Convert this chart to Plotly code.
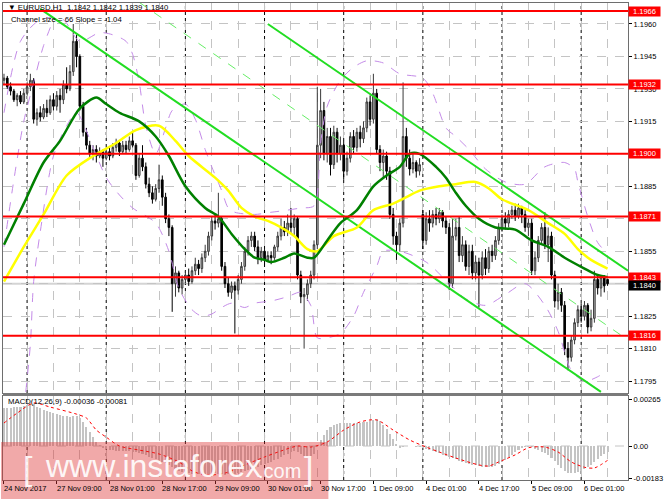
import plotly.graph_objects as go

# ---------------- data ----------------
bar_index = list(range(184))

opens = [
1.1934,1.1935,1.1931,1.1929,1.1925,1.1927,1.1924,1.1928,1.1931,1.1934,
1.1916,1.1919,1.1917,1.1921,1.1919,1.1925,1.1922,1.1927,1.1925,1.1932,
1.1930,1.1938,1.1952,1.1945,1.1922,1.1910,1.1904,1.1900,1.1902,1.1899,
1.1901,1.1898,1.1901,1.1899,1.1903,1.1905,1.1901,1.1904,1.1902,1.1906,
1.1904,1.1890,1.1898,1.1894,1.1886,1.1882,1.1879,1.1884,1.1888,1.1880,
1.1870,1.1866,1.1840,1.1845,1.1838,1.1842,1.1844,1.1841,1.1846,1.1849,
1.1847,1.1852,1.1855,1.1862,1.1869,1.1868,1.1870,1.1848,1.1840,1.1836,
1.1839,1.1837,1.1842,1.1848,1.1855,1.1860,1.1862,1.1857,1.1852,1.1855,
1.1851,1.1853,1.1852,1.1857,1.1862,1.1866,1.1864,1.1868,1.1866,1.1870,
1.1844,1.1834,1.1835,1.1840,1.1844,1.1858,1.1904,1.1920,1.1900,1.1908,
1.1895,1.1910,1.1900,1.1904,1.1892,1.1898,1.1908,1.1903,1.1910,1.1907,
1.1912,1.1924,1.1916,1.1928,1.1902,1.1896,1.1899,1.1892,1.1872,1.1862,
1.1858,1.1868,1.1908,1.1898,1.1893,1.1896,1.1892,1.1872,1.1860,1.1870,
1.1868,1.1872,1.1870,1.1873,1.1869,1.1866,1.1840,1.1862,1.1866,1.1853,
1.1858,1.1848,1.1855,1.1845,1.1850,1.1844,1.1852,1.1847,1.1855,1.1853,
1.1860,1.1866,1.1870,1.1868,1.1872,1.1874,1.1871,1.1875,1.1872,1.1866,
1.1868,1.1846,1.1852,1.1860,1.1866,1.1858,1.1862,1.1844,1.1832,1.1836,
1.1830,1.1810,1.1806,1.1814,1.1822,1.1828,1.1825,1.1830,1.1820,1.1824,
1.1842,1.1838,1.1843,1.1842]

highs = [
1.1937,1.1936,1.1933,1.1930,1.1928,1.1929,1.1930,1.1933,1.1937,1.1935,
1.1921,1.1922,1.1923,1.1925,1.1927,1.1928,1.1929,1.1930,1.1934,1.1940,
1.1941,1.1960,1.1955,1.1946,1.1924,1.1912,1.1906,1.1904,1.1904,1.1903,
1.1902,1.1903,1.1903,1.1905,1.1907,1.1906,1.1906,1.1906,1.1908,1.1910,
1.1905,1.1900,1.1904,1.1896,1.1889,1.1885,1.1886,1.1895,1.1890,1.1882,
1.1872,1.1867,1.1848,1.1846,1.1844,1.1846,1.1847,1.1848,1.1852,1.1851,
1.1854,1.1858,1.1864,1.1871,1.1872,1.1882,1.1871,1.1850,1.1843,1.1841,
1.1841,1.1844,1.1850,1.1857,1.1862,1.1864,1.1864,1.1860,1.1857,1.1856,
1.1855,1.1855,1.1858,1.1864,1.1870,1.1869,1.1872,1.1875,1.1872,1.1871,
1.1846,1.1838,1.1842,1.1846,1.1860,1.1931,1.1930,1.1924,1.1912,1.1912,
1.1913,1.1912,1.1908,1.1906,1.1901,1.1910,1.1911,1.1912,1.1913,1.1915,
1.1926,1.1927,1.1937,1.1930,1.1904,1.1902,1.1901,1.1894,1.1875,1.1864,
1.1870,1.1933,1.1912,1.1902,1.1900,1.1897,1.1898,1.1874,1.1873,1.1874,
1.1874,1.1875,1.1875,1.1874,1.1871,1.1868,1.1870,1.1870,1.1871,1.1862,
1.1860,1.1858,1.1858,1.1853,1.1852,1.1855,1.1856,1.1857,1.1858,1.1862,
1.1868,1.1872,1.1873,1.1874,1.1876,1.1877,1.1877,1.1876,1.1874,1.1870,
1.1870,1.1855,1.1862,1.1868,1.1873,1.1866,1.1864,1.1846,1.1840,1.1838,
1.1832,1.1813,1.1816,1.1824,1.1830,1.1831,1.1832,1.1831,1.1828,1.1846,
1.1844,1.1844,1.1844,1.1842]

lows = [
1.1932,1.1930,1.1927,1.1924,1.1922,1.1923,1.1923,1.1927,1.1929,1.1914,
1.1913,1.1915,1.1916,1.1917,1.1918,1.1920,1.1920,1.1919,1.1923,1.1928,
1.1929,1.1936,1.1940,1.1920,1.1908,1.1902,1.1898,1.1897,1.1896,1.1898,
1.1894,1.1897,1.1897,1.1898,1.1901,1.1899,1.1900,1.1900,1.1901,1.1903,
1.1888,1.1889,1.1892,1.1884,1.1880,1.1877,1.1878,1.1882,1.1876,1.1868,
1.1862,1.1827,1.1834,1.1836,1.1835,1.1840,1.1839,1.1840,1.1844,1.1844,
1.1845,1.1850,1.1853,1.1860,1.1865,1.1866,1.1846,1.1838,1.1834,1.1833,
1.1817,1.1835,1.1840,1.1846,1.1853,1.1857,1.1855,1.1849,1.1850,1.1849,
1.1850,1.1849,1.1851,1.1855,1.1860,1.1862,1.1862,1.1863,1.1862,1.1842,
1.1831,1.1810,1.1832,1.1838,1.1842,1.1856,1.1898,1.1897,1.1896,1.1890,
1.1893,1.1896,1.1897,1.1888,1.1890,1.1896,1.1900,1.1901,1.1903,1.1905,
1.1910,1.1913,1.1914,1.1900,1.1892,1.1889,1.1888,1.1870,1.1858,1.1851,
1.1855,1.1866,1.1894,1.1890,1.1891,1.1889,1.1890,1.1856,1.1858,1.1864,
1.1866,1.1867,1.1868,1.1866,1.1863,1.1837,1.1838,1.1860,1.1850,1.1850,
1.1846,1.1844,1.1842,1.1842,1.1829,1.1842,1.1844,1.1845,1.1850,1.1851,
1.1858,1.1864,1.1865,1.1866,1.1870,1.1869,1.1870,1.1868,1.1864,1.1862,
1.1844,1.1844,1.1850,1.1858,1.1856,1.1850,1.1842,1.1829,1.1828,1.1827,
1.1807,1.1800,1.1804,1.1812,1.1820,1.1822,1.1823,1.1817,1.1818,1.1822,
1.1835,1.1834,1.1836,1.1839]

closes = [
1.1935,1.1931,1.1929,1.1925,1.1927,1.1924,1.1928,1.1931,1.1934,1.1916,
1.1919,1.1917,1.1921,1.1919,1.1925,1.1922,1.1927,1.1925,1.1932,1.1930,
1.1938,1.1952,1.1945,1.1922,1.1910,1.1904,1.1900,1.1902,1.1899,1.1901,
1.1898,1.1901,1.1899,1.1903,1.1905,1.1901,1.1904,1.1902,1.1906,1.1904,
1.1890,1.1898,1.1894,1.1886,1.1882,1.1879,1.1884,1.1888,1.1880,1.1870,
1.1866,1.1840,1.1845,1.1838,1.1842,1.1844,1.1841,1.1846,1.1849,1.1847,
1.1852,1.1855,1.1862,1.1869,1.1868,1.1870,1.1848,1.1840,1.1836,1.1839,
1.1837,1.1842,1.1848,1.1855,1.1860,1.1862,1.1857,1.1852,1.1855,1.1851,
1.1853,1.1852,1.1857,1.1862,1.1866,1.1864,1.1868,1.1866,1.1870,1.1844,
1.1834,1.1835,1.1840,1.1844,1.1858,1.1904,1.1920,1.1900,1.1908,1.1895,
1.1910,1.1900,1.1904,1.1892,1.1898,1.1908,1.1903,1.1910,1.1907,1.1912,
1.1924,1.1916,1.1928,1.1902,1.1896,1.1899,1.1892,1.1872,1.1862,1.1858,
1.1868,1.1908,1.1898,1.1893,1.1896,1.1892,1.1895,1.1860,1.1870,1.1868,
1.1872,1.1870,1.1873,1.1869,1.1866,1.1840,1.1862,1.1866,1.1853,1.1858,
1.1848,1.1855,1.1845,1.1850,1.1844,1.1852,1.1847,1.1855,1.1853,1.1860,
1.1866,1.1870,1.1868,1.1872,1.1874,1.1871,1.1875,1.1872,1.1866,1.1868,
1.1846,1.1852,1.1860,1.1866,1.1858,1.1862,1.1844,1.1832,1.1836,1.1830,
1.1810,1.1806,1.1814,1.1822,1.1828,1.1825,1.1830,1.1820,1.1824,1.1842,
1.1838,1.1843,1.1839,1.1840]

macd_hist = [
0.00212,0.00214,0.00216,0.00218,0.00220,0.00222,0.00226,0.00232,0.00240,0.00236,
0.00222,0.00212,0.00205,0.00198,0.00192,0.00186,0.00180,0.00174,0.00170,0.00168,
0.00166,0.00168,0.00168,0.00160,0.00135,0.00110,0.00080,0.00050,0.00025,0.00005,
-0.00010,-0.00018,-0.00022,-0.00025,-0.00026,-0.00028,-0.00028,-0.00030,-0.00030,-0.00032,
-0.00036,-0.00040,-0.00045,-0.00052,-0.00060,-0.00068,-0.00075,-0.00082,-0.00090,-0.00098,
-0.00106,-0.00120,-0.00132,-0.00140,-0.00146,-0.00150,-0.00154,-0.00156,-0.00158,-0.00160,
-0.00160,-0.00160,-0.00158,-0.00156,-0.00155,-0.00156,-0.00160,-0.00162,-0.00160,-0.00158,
-0.00156,-0.00152,-0.00148,-0.00142,-0.00135,-0.00128,-0.00122,-0.00116,-0.00110,-0.00104,
-0.00096,-0.00088,-0.00080,-0.00072,-0.00062,-0.00052,-0.00044,-0.00036,-0.00030,-0.00034,
-0.00045,-0.00055,-0.00060,-0.00058,-0.00045,-0.00005,0.00035,0.00065,0.00090,0.00105,
0.00118,0.00125,0.00128,0.00128,0.00128,0.00130,0.00130,0.00132,0.00132,0.00134,
0.00138,0.00142,0.00148,0.00153,0.00140,0.00118,0.00095,0.00070,0.00040,0.00010,
-0.00012,-0.00008,0.00002,0.00001,-0.00002,-0.00004,-0.00005,-0.00012,-0.00018,-0.00024,
-0.00030,-0.00036,-0.00042,-0.00048,-0.00054,-0.00062,-0.00070,-0.00076,-0.00082,-0.00088,
-0.00094,-0.00100,-0.00106,-0.00110,-0.00114,-0.00116,-0.00118,-0.00118,-0.00116,-0.00112,
-0.00104,-0.00092,-0.00078,-0.00064,-0.00050,-0.00036,-0.00024,-0.00012,-0.00005,-0.00003,
-0.00008,-0.00016,-0.00024,-0.00032,-0.00040,-0.00050,-0.00065,-0.00085,-0.00105,-0.00125,
-0.00140,-0.00150,-0.00152,-0.00150,-0.00146,-0.00140,-0.00130,-0.00120,-0.00108,-0.00090,
-0.00072,-0.00058,-0.00046,-0.00036]

signal_bars = [0, 4, 9, 14, 22, 25, 28, 31, 35, 41, 47, 53, 57, 61, 67, 73, 79, 84, 89, 93,
               98, 103, 108, 113, 118, 123, 128, 132, 137, 144, 147, 150, 155, 159, 164, 168,
               172, 176, 179, 183]
signal_vals = [0.00130, 0.00186, 0.00243, 0.00220, 0.00180, 0.00158, 0.00090, 0.00050, 0.00000,
               -0.00023, -0.00045, -0.00090, -0.00140, -0.00164, -0.00153, -0.00107, -0.00062,
               -0.00028, 0.00000, -0.00006, 0.00023, 0.00090, 0.00136, 0.00147, 0.00090, 0.00034,
               -0.00006, -0.00034, -0.00068, -0.00107, -0.00113, -0.00090, -0.00050, -0.00010,
               -0.00006, -0.00034, -0.00090, -0.00120, -0.00124, -0.00081]

green_ma_bars = [0, 6, 12, 17, 23, 28, 31, 35, 41, 46, 50, 55, 61, 65, 69, 73, 76, 79, 81, 85,
                 88, 92, 94, 98, 102, 107, 112, 116, 120, 123, 126, 131, 134, 137, 140, 144,
                 149, 155, 160, 165, 170, 176, 180, 183]
green_ma_vals = [1.1858, 1.1877, 1.1896, 1.1906, 1.1921, 1.1926, 1.1923, 1.1919, 1.1915, 1.1908,
                 1.1899, 1.1885, 1.1875, 1.1871, 1.1863, 1.1856, 1.1852, 1.1851, 1.1850, 1.1852,
                 1.1854, 1.1852, 1.1852, 1.1860, 1.1868, 1.1874, 1.1885, 1.1890, 1.1894, 1.1900,
                 1.1900, 1.1894, 1.1889, 1.1882, 1.1876, 1.1870, 1.1866, 1.1865, 1.1860, 1.1857,
                 1.1852, 1.1847, 1.1844, 1.1843]

yellow_ma_bars = [0, 6, 12, 19, 27, 34, 40, 47, 52, 56, 64, 68, 72, 76, 80, 84, 88, 92, 95,
                  100, 107, 112, 118, 122, 126, 132, 137, 143, 147, 151, 159, 165, 170, 174,
                  178, 183]
yellow_ma_vals = [1.1841, 1.1857, 1.1872, 1.1890, 1.1899, 1.1905, 1.1911, 1.1913, 1.1906, 1.1899,
                  1.1889, 1.1883, 1.1875, 1.1871, 1.1869, 1.1866, 1.1862, 1.1856, 1.1855,
                  1.1862, 1.1866, 1.1874, 1.1877, 1.1880, 1.1883, 1.1885, 1.1886, 1.1887, 1.1884,
                  1.1879, 1.1874, 1.1868, 1.1863, 1.1856, 1.1851, 1.1847]

# violet dashed band curves
band_upper_bars = [0, 5, 10, 14, 18, 23, 29, 33, 37, 39, 41, 43, 46, 49, 51, 55, 58, 61, 63, 66,
                   68, 70, 76, 81, 86, 90, 94, 96, 98, 102, 106, 110, 115, 120, 127, 130, 134,
                   137, 141, 146, 152, 158, 164, 170, 173, 174, 177, 180, 183]
band_upper_vals = [1.1919, 1.1952, 1.1961, 1.1963, 1.1962, 1.1952, 1.1956, 1.1955, 1.1952, 1.1946,
                   1.1933, 1.1913, 1.1900, 1.1912, 1.1920, 1.1923, 1.1916, 1.1902, 1.1894, 1.1883,
                   1.1875, 1.1873, 1.1872, 1.1873, 1.1874, 1.1875, 1.1876, 1.1905, 1.1922, 1.1934,
                   1.1940, 1.1943, 1.1942, 1.1937, 1.1935, 1.1928, 1.1912, 1.1908, 1.1902, 1.1893,
                   1.1887, 1.1886, 1.1894, 1.1896, 1.1893, 1.1887, 1.1871, 1.1859, 1.1854]

band_lower_bars = [6.6, 8, 9, 11, 15, 19, 22, 27, 31, 35, 39, 46, 50, 53, 57, 60, 63, 66, 69, 73,
                   76, 81, 86, 90, 93, 95, 98, 102, 106, 109, 113, 115, 120, 128, 135, 140, 146,
                   152, 158, 164, 168, 172, 176, 180, 183]
band_lower_vals = [1.1790, 1.1812, 1.1841, 1.1864, 1.1899, 1.1913, 1.1919, 1.1903, 1.1889, 1.1881,
                   1.1875, 1.1868, 1.1855, 1.1838, 1.1828, 1.1825, 1.1826, 1.1829, 1.1831, 1.1829,
                   1.1831, 1.1832, 1.1834, 1.1836, 1.1830, 1.1815, 1.1815, 1.1817, 1.1825, 1.1836,
                   1.1848, 1.1855, 1.1855, 1.1850, 1.1840, 1.1833, 1.1830, 1.1835, 1.1840, 1.1830,
                   1.1818, 1.1800, 1.1795, 1.1797, 1.1800]

band_inner_bars = [0, 3, 6, 9, 12, 15]
band_inner_vals = [1.1857, 1.1888, 1.1915, 1.1933, 1.1950, 1.1962]

channel_lower_bars = [11, 181]
channel_lower_vals = [1.1967, 1.1790]
channel_upper_bars = [80, 189.2]
channel_upper_vals = [1.1960, 1.1846]
channel_mid_bars = [41, 189.2]
channel_mid_vals = [1.1970, 1.1814]

levels = [1.1966, 1.1932, 1.1900, 1.1871, 1.1843, 1.1816]
level_labels = ["1.1966", "1.1932", "1.1900", "1.1871", "1.1843", "1.1816"]
current_price = 1.1840
current_label = "1.1840"

price_ticks = [1.1795, 1.1810, 1.1825, 1.1840, 1.1855, 1.1870, 1.1885, 1.1900, 1.1915,
               1.1930, 1.1945, 1.1960]
# labels hidden behind the level boxes in the reference are left blank
price_ticklabels = ["1.1795", "1.1810", "1.1825", "", "1.1855", "", "1.1885",
                    "", "1.1915", "1.1930", "1.1945", "1.1960"]
macd_ticks = [0.00265, 0.0, -0.00183]
macd_ticklabels = ["0.00265", "0.00", "-0.00183"]

x_label_bars = [0, 16, 32, 48, 64, 80, 96, 112, 128, 144, 160, 176]
x_labels = ["24 Nov 2017", "27 Nov 09:00", "28 Nov 01:00", "28 Nov 17:00", "29 Nov 09:00",
            "30 Nov 01:00", "30 Nov 17:00", "1 Dec 09:00", "4 Dec 01:00", "4 Dec 17:00",
            "5 Dec 09:00", "6 Dec 01:00"]
grid_bars = [7, 15, 23, 31, 39, 47, 55, 63, 71, 79, 87, 95, 103, 111, 119, 127, 135, 143,
             151, 159, 167, 175, 183]
day_start_bars = [7, 31, 55, 79, 103, 127, 151, 175]

header_text = "\u25BC EURUSD,H1  1.1842 1.1842 1.1839 1.1840"
channel_text = "Channel size = 66 Slope = -1.04"
macd_text = "MACD(12,26,9) -0.00036 -0.00081"

# ---------------- layout geometry ----------------
W, H = 665, 499
ML, MR, MT, MB = 2, 33, 3, 19
PW, PH = W - ML - MR, H - MT - MB


def px(x):
    return (x - ML) / PW


def py(y):
    return (H - MB - y) / PH


main_dom = [py(393), 1.0]
macd_dom = [0.0, py(396)]
XR = [-0.3, 189.2]
FONT = "Liberation Sans, Arial, sans-serif"
GRID = "#c4c4c4"
FRAME = "#6e6e6e"
FS = 7.5
TFS = 7.75

fig = go.Figure()

band_line = dict(color="#c48be8", width=1, dash="dash", shape="spline", smoothing=0.8)
for bx, by in [(band_upper_bars, band_upper_vals), (band_lower_bars, band_lower_vals),
               (band_inner_bars, band_inner_vals)]:
    fig.add_trace(go.Scatter(x=bx, y=by, mode="lines", line=band_line,
                             xaxis="x", yaxis="y", hoverinfo="skip", showlegend=False))

fig.add_trace(go.Scatter(x=channel_mid_bars, y=channel_mid_vals, mode="lines",
                         line=dict(color="#66ee66", width=1, dash="dash"), xaxis="x", yaxis="y",
                         showlegend=False, hoverinfo="skip"))
for bx, by in [(channel_lower_bars, channel_lower_vals), (channel_upper_bars, channel_upper_vals)]:
    fig.add_trace(go.Scatter(x=bx, y=by, mode="lines", line=dict(color="#22dd22", width=2),
                             xaxis="x", yaxis="y", showlegend=False, hoverinfo="skip"))

fig.add_trace(go.Candlestick(
    x=bar_index, open=opens, high=highs, low=lows, close=closes,
    increasing=dict(line=dict(color="#3a3a3a", width=1), fillcolor="#b4b4b4"),
    decreasing=dict(line=dict(color="#000000", width=1), fillcolor="#000000"),
    whiskerwidth=0, xaxis="x", yaxis="y", showlegend=False, hoverinfo="skip"))

fig.add_trace(go.Scatter(x=yellow_ma_bars, y=yellow_ma_vals, mode="lines",
                         line=dict(color="#ffff00", width=2.5, shape="spline", smoothing=0.8),
                         xaxis="x", yaxis="y", showlegend=False, hoverinfo="skip"))
fig.add_trace(go.Scatter(x=green_ma_bars, y=green_ma_vals, mode="lines",
                         line=dict(color="#008000", width=2.5, shape="spline", smoothing=0.8),
                         xaxis="x", yaxis="y", showlegend=False, hoverinfo="skip"))

fig.add_trace(go.Bar(x=bar_index, y=macd_hist, marker=dict(color="#c4c4c4", line=dict(width=0)),
                     width=0.62, xaxis="x2", yaxis="y2", showlegend=False, hoverinfo="skip"))
fig.add_trace(go.Scatter(x=signal_bars, y=signal_vals, mode="lines",
                         line=dict(color="#ff0000", width=1, dash="dot", shape="spline", smoothing=0.8),
                         xaxis="x2", yaxis="y2", showlegend=False, hoverinfo="skip"))

shapes = []
shapes.append(dict(type="line", xref="x domain", yref="y", x0=0, x1=1, y0=current_price, y1=current_price,
                   line=dict(color="#d4d4d4", width=2), layer="below"))
for d in day_start_bars:
    for yr in ["y domain", "y2 domain"]:
        shapes.append(dict(type="line", xref="x", yref=yr, x0=d, x1=d, y0=0, y1=1,
                           line=dict(color="#000000", width=1, dash="dot"), layer="below"))
for lv in levels:
    shapes.append(dict(type="line", xref="x domain", yref="y", x0=0, x1=1, y0=lv, y1=lv,
                       line=dict(color="#ff0000", width=2), layer="above"))
shapes.append(dict(type="line", xref="x domain", yref="y2", x0=0, x1=1, y0=0, y1=0,
                   line=dict(color=GRID, width=1, dash="dash"), layer="below"))
shapes.append(dict(type="rect", xref="paper", yref="paper", x0=px(ML), x1=1, y0=py(396), y1=py(393),
                   fillcolor="#7a7a7a", line=dict(width=0), layer="above"))
shapes.append(dict(type="rect", xref="paper", yref="paper", x0=px(0), x1=px(330), y0=py(499), y1=py(442),
                   fillcolor="rgba(222,50,50,0.42)", line=dict(width=0), layer="above"))

annotations = []
for lv, lab in zip(levels, level_labels):
    annotations.append(dict(xref="paper", yref="y", x=1.0, y=lv, xanchor="left", yanchor="middle",
                            text=lab, showarrow=False, bgcolor="#ff0000", borderpad=0, width=31, height=9,
                            font=dict(family=FONT, size=FS, color="white"), align="center"))
annotations.append(dict(xref="paper", yref="y", x=1.0, y=current_price, xanchor="left", yanchor="middle",
                        text=current_label, showarrow=False, bgcolor="#000000", borderpad=0, width=31, height=9,
                        font=dict(family=FONT, size=FS, color="white"), align="center", yshift=-2))
for b, lab in zip(x_label_bars, x_labels):
    annotations.append(dict(xref="x2", yref="paper", x=b, y=py(488), xanchor="left", yanchor="middle",
                            text=lab, showarrow=False, xshift=-2,
                            font=dict(family=FONT, size=FS, color="#000")))
annotations.append(dict(xref="paper", yref="paper", x=px(5), y=py(8), xanchor="left", yanchor="middle",
                        text=header_text, showarrow=False, font=dict(family=FONT, size=TFS, color="#000")))
annotations.append(dict(xref="paper", yref="paper", x=px(8), y=py(20), xanchor="left", yanchor="middle",
                        text=channel_text, showarrow=False, font=dict(family=FONT, size=TFS, color="#000")))
annotations.append(dict(xref="paper", yref="paper", x=px(5), y=py(401), xanchor="left", yanchor="middle",
                        text=macd_text, showarrow=False, font=dict(family=FONT, size=TFS, color="#000")))
annotations.append(dict(xref="paper", yref="paper", x=px(27), y=py(468), xanchor="center", yanchor="middle",
                        text="[", showarrow=False, font=dict(family=FONT, size=34, color="rgba(255,255,255,0.9)")))
annotations.append(dict(xref="paper", yref="paper", x=px(42), y=py(466), xanchor="left", yanchor="middle",
                        text="www.instaforex", showarrow=False, font=dict(family=FONT, size=32, color="rgba(255,255,255,0.92)")))
annotations.append(dict(xref="paper", yref="paper", x=px(257), y=py(471), xanchor="left", yanchor="middle",
                        text=".com", showarrow=False, font=dict(family=FONT, size=20, color="rgba(255,255,255,0.92)")))
annotations.append(dict(xref="paper", yref="paper", x=px(310), y=py(468), xanchor="center", yanchor="middle",
                        text="]", showarrow=False, font=dict(family=FONT, size=34, color="rgba(255,255,255,0.9)")))

axis_common = dict(showline=True, linecolor=FRAME, linewidth=1, mirror=True, zeroline=False)

fig.update_layout(
    width=W, height=H, margin=dict(l=ML, r=MR, t=MT, b=MB),
    paper_bgcolor="white", plot_bgcolor="white", showlegend=False,
    font=dict(family=FONT, size=FS, color="#000"),
    bargap=0,
    xaxis=dict(domain=[0, 1], range=XR, anchor="y", tickmode="array", tickvals=grid_bars,
               showticklabels=False, ticks="", showgrid=True, gridcolor=GRID, griddash="dash",
               gridwidth=1, rangeslider=dict(visible=False), **axis_common),
    yaxis=dict(domain=main_dom, range=[1.17895, 1.19697], side="right", anchor="x",
               tickmode="array", tickvals=price_ticks, ticktext=price_ticklabels,
               ticks="outside", ticklen=3, tickcolor="#000", showgrid=True, gridcolor=GRID,
               griddash="dash",
               tickfont=dict(family=FONT, size=FS, color="#000"), **axis_common),
    xaxis2=dict(domain=[0, 1], range=XR, anchor="y2", matches="x", tickmode="array",
                tickvals=x_label_bars, showticklabels=False, ticks="outside", ticklen=3,
                tickcolor="#000", showgrid=False,
                minor=dict(tickmode="array", tickvals=grid_bars, showgrid=True, gridcolor=GRID,
                           griddash="dash", ticks=""),
                **axis_common),
    yaxis2=dict(domain=macd_dom, range=[-0.00192, 0.002825], side="right", anchor="x2",
                tickmode="array", tickvals=macd_ticks, ticktext=macd_ticklabels,
                ticks="outside", ticklen=3, tickcolor="#000", showgrid=False,
                tickfont=dict(family=FONT, size=FS, color="#000"), **axis_common),
    shapes=shapes, annotations=annotations,
)

# remove the browser's default 8px page margin so the figure sits at the window origin
fig.write_html("out.html",
               config={"displayModeBar": False, "staticPlot": True},
               post_script="document.body.style.margin='0';document.body.style.overflow='hidden';")
